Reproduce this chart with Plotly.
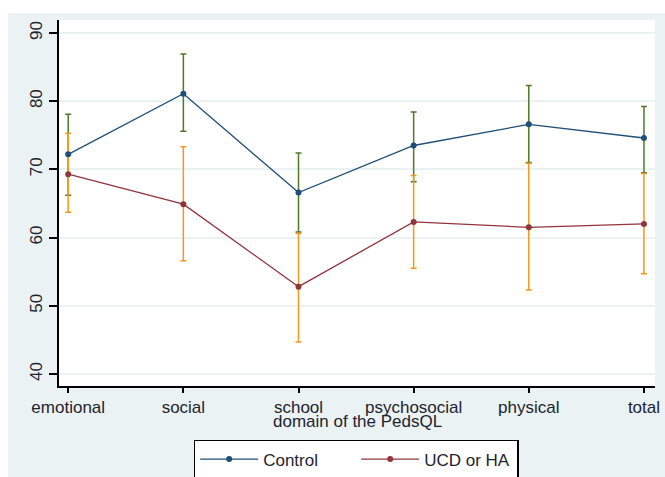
import plotly.graph_objects as go

categories = ["emotional", "social", "school", "psychosocial", "physical", "total"]
control_mean = [72.2, 81.1, 66.6, 73.5, 76.6, 74.6]
control_lo = [66.2, 75.6, 60.8, 68.2, 71.0, 69.5]
control_hi = [78.1, 86.9, 72.4, 78.4, 82.3, 79.2]
ucd_mean = [69.3, 64.9, 52.8, 62.3, 61.5, 62.0]
ucd_lo = [63.7, 56.6, 44.7, 55.5, 52.3, 54.7]
ucd_hi = [75.3, 73.3, 60.6, 69.1, 70.9, 69.4]
y_ticks = [40, 50, 60, 70, 80, 90]

NAVY = "#1F4E79"
MAROON = "#93343C"
GREEN = "#4F7A28"
ORANGE = "#F29A1C"
BG = "#EAF2F3"
FONT = "Liberation Sans"
TXT = "#1E2430"

def err(mean, lo, hi):
    return dict(type="data", symmetric=False,
                array=[h - m for m, h in zip(mean, hi)],
                arrayminus=[m - l for m, l in zip(mean, lo)])

fig = go.Figure()
fig.add_trace(go.Scatter(x=categories, y=control_mean, mode="markers",
                         marker=dict(size=1, color="rgba(0,0,0,0)"),
                         error_y=dict(**err(control_mean, control_lo, control_hi),
                                      color=GREEN, thickness=1.5, width=3),
                         showlegend=False, hoverinfo="skip"))
fig.add_trace(go.Scatter(x=categories, y=ucd_mean, mode="markers",
                         marker=dict(size=1, color="rgba(0,0,0,0)"),
                         error_y=dict(**err(ucd_mean, ucd_lo, ucd_hi),
                                      color=ORANGE, thickness=1.5, width=3),
                         showlegend=False, hoverinfo="skip"))
fig.add_trace(go.Scatter(x=categories, y=control_mean, mode="lines+markers",
                         name="Control", line=dict(color=NAVY, width=1.3),
                         marker=dict(size=6, color=NAVY)))
fig.add_trace(go.Scatter(x=categories, y=ucd_mean, mode="lines+markers",
                         name="UCD or HA", line=dict(color=MAROON, width=1.3),
                         marker=dict(size=6, color=MAROON)))

fig.update_layout(
    width=665, height=477,
    margin=dict(l=59, r=10, t=20, b=91, autoexpand=False),
    paper_bgcolor=BG, plot_bgcolor="white",
    font=dict(family=FONT, size=17, color=TXT),
    xaxis=dict(type="category", range=[-0.08, 5.096], showgrid=False, automargin=False,
               showline=True, linecolor="black", linewidth=1.5,
               ticks="outside", ticklen=5, tickcolor="black", tickwidth=1.5,
               tickfont=dict(size=17), zeroline=False, ticklabeloverflow="allow"),
    yaxis=dict(range=[38.24, 91.9], tickvals=y_ticks, tickangle=-90, automargin=False,
               showgrid=True, gridcolor=BG, gridwidth=1.5,
               showline=True, linecolor="black", linewidth=1.5,
               ticks="outside", ticklen=8, tickcolor="black", tickwidth=1.5,
               tickfont=dict(size=17), zeroline=False),
    legend=dict(orientation="h", x=0.4986, xanchor="center", y=-0.1475, yanchor="top",
                bgcolor="white", bordercolor="black", borderwidth=1.5,
                font=dict(size=17), entrywidth=88, itemwidth=58),
    annotations=[dict(text="domain of the PedsQL", xref="paper", yref="paper",
                      x=0.5, y=-0.097, xanchor="center", yanchor="middle",
                      showarrow=False, font=dict(size=17))],
    shapes=[
        dict(type="rect", xref="paper", yref="paper", x0=-0.2, x1=1.1, y0=1.019, y1=1.2,
             fillcolor="white", line=dict(width=0), layer="below"),
        dict(type="rect", xref="paper", yref="paper", x0=-0.2, x1=-0.0856, y0=-0.4, y1=1.2,
             fillcolor="white", line=dict(width=0), layer="below"),
    ],
)

fig.write_html("out.html", config={"displayModeBar": False},
               post_script="document.body.style.margin='0';document.body.style.overflow='hidden';")
